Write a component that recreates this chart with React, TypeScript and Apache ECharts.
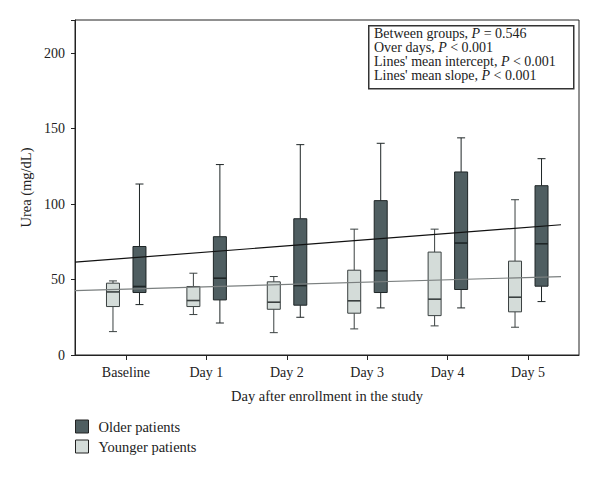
import React, { useEffect, useRef } from "react";
import * as echarts from "echarts";

const categories = ["Baseline", "Day 1", "Day 2", "Day 3", "Day 4", "Day 5"];
// [min, Q1, median, Q3, max]
const youngerBoxes = [
  [15.5, 32.1, 41.8, 47.6, 49.1],
  [26.8, 32.1, 36.1, 45.4, 54.2],
  [14.8, 30.3, 35.0, 48.5, 52.0],
  [17.3, 27.7, 35.9, 56.2, 83.4],
  [19.3, 26.1, 37.0, 68.2, 83.4],
  [18.4, 28.6, 38.3, 62.2, 102.9],
];
const olderBoxes = [
  [33.4, 41.4, 45.4, 71.9, 113.3],
  [21.2, 36.5, 50.9, 78.4, 126.2],
  [25.0, 33.0, 46.0, 90.3, 139.4],
  [31.2, 41.4, 55.8, 102.3, 140.3],
  [31.2, 43.4, 74.2, 121.3, 143.9],
  [35.4, 45.6, 73.7, 112.2, 130.1],
];
// fitted lines: x positions (category index units) and y values at those positions
const trendX = [-0.634, 5.41];
const olderTrend = [61.5, 86.3];
const youngerTrend = [42.7, 52.0];
const yTicks = [0, 50, 100, 150, 200];
const statLines = [
  ["Between groups, ", "= 0.546"],
  ["Over days, ", "< 0.001"],
  ["Lines' mean intercept, ", "< 0.001"],
  ["Lines' mean slope, ", "< 0.001"],
];

const FONT = "Liberation Serif";
const TXT = "#222";

function boxRenderer(offsetPx: number, fill: string, stroke: string) {
  return (params: any, api: any) => {
    const i = api.value(0);
    const pt = (v: number) => api.coord([i, v]);
    const cx = pt(0)[0] + offsetPx;
    const yMin = pt(api.value(1))[1];
    const yQ1 = pt(api.value(2))[1];
    const yMed = pt(api.value(3))[1];
    const yQ3 = pt(api.value(4))[1];
    const yMax = pt(api.value(5))[1];
    const hw = 6.5;
    const cw = 4;
    const ls = { stroke, lineWidth: 1 };
    return {
      type: "group",
      children: [
        { type: "line", shape: { x1: cx, y1: yMax, x2: cx, y2: yQ3 }, style: ls },
        { type: "line", shape: { x1: cx, y1: yQ1, x2: cx, y2: yMin }, style: ls },
        { type: "line", shape: { x1: cx - cw, y1: yMax, x2: cx + cw, y2: yMax }, style: ls },
        { type: "line", shape: { x1: cx - cw, y1: yMin, x2: cx + cw, y2: yMin }, style: ls },
        {
          type: "rect",
          shape: { x: cx - hw, y: yQ3, width: hw * 2, height: yQ1 - yQ3 },
          style: { fill, stroke, lineWidth: 1 },
        },
        { type: "line", shape: { x1: cx - hw, y1: yMed, x2: cx + hw, y2: yMed }, style: { stroke, lineWidth: 1.6 } },
      ],
    };
  };
}

export default function App() {
  const ref = useRef<HTMLDivElement>(null);
  useEffect(() => {
    if (!ref.current) return;
    const chart = echarts.init(ref.current, null, { renderer: "svg" });
    const olderFill = "#4f5e61";
    const youngerFill = "#d4dcd9";
    const statTexts = statLines.map((l, k) => ({
      type: "text",
      left: 374,
      top: 26.5 + k * 14,
      style: {
        text: `${l[0]}{i|P} ${l[1]}`,
        font: `14px '${FONT}'`,
        fill: TXT,
        rich: { i: { fontStyle: "italic", fontFamily: FONT, fontSize: 14, fill: TXT } },
      },
    }));
    chart.setOption({
      animation: false,
      backgroundColor: "#fff",
      textStyle: { fontFamily: FONT, color: TXT },
      grid: {
        left: 75,
        top: 20,
        width: 504,
        height: 335,
        show: true,
        borderColor: "#222",
        borderWidth: 1,
      },
      legend: {
        data: ["Older patients", "Younger patients"],
        orient: "vertical",
        left: 75,
        top: 419,
        padding: 0,
        icon: "rect",
        itemWidth: 13,
        itemHeight: 13,
        itemGap: 5,
        itemStyle: { borderColor: "#222", borderWidth: 1 },
        textStyle: { fontFamily: FONT, fontSize: 14.5, color: TXT, padding: [0, 0, 0, 5] },
        selectedMode: false,
      },
      xAxis: [
        {
          type: "value",
          min: trendX[0],
          max: categories.length - 1 - trendX[0],
          name: "Day after enrollment in the study",
          nameLocation: "middle",
          nameGap: 33,
          nameTextStyle: { fontFamily: FONT, fontSize: 14.5, color: TXT },
          splitLine: { show: false },
          axisLine: { onZero: false, lineStyle: { color: "#222" } },
          axisTick: {
            customValues: categories.map((_, i) => i),
            length: 5,
            lineStyle: { color: "#222" },
          },
          axisLabel: {
            customValues: categories.map((_, i) => i),
            formatter: (v: number) => categories[Math.round(v)] ?? "",
            fontFamily: FONT,
            fontSize: 14,
            color: TXT,
            margin: 10,
          },
        },
      ],
      yAxis: {
        type: "value",
        min: 0,
        max: 222,
        interval: 50,
        name: "Urea (mg/dL)",
        nameLocation: "middle",
        nameGap: 40,
        nameTextStyle: { fontFamily: FONT, fontSize: 14.5, color: TXT },
        splitLine: { show: false },
        axisLine: { show: true, onZero: false, lineStyle: { color: "#222" } },
        axisTick: { show: true, length: 4, lineStyle: { color: "#222" } },
        axisLabel: {
          fontFamily: FONT,
          fontSize: 14,
          color: TXT,
          margin: 10,
          formatter: (v: number) => (yTicks.includes(v) ? String(v) : ""),
        },
      },
      series: [
        {
          name: "Older patients",
          type: "custom",
          itemStyle: { color: olderFill },
          encode: { x: 0, y: [1, 2, 3, 4, 5] },
          data: olderBoxes.map((d, i) => [i, ...d]),
          renderItem: boxRenderer(13.5, olderFill, "#1e2526"),
          z: 2,
        },
        {
          name: "Younger patients",
          type: "custom",
          itemStyle: { color: youngerFill },
          encode: { x: 0, y: [1, 2, 3, 4, 5] },
          data: youngerBoxes.map((d, i) => [i, ...d]),
          renderItem: boxRenderer(-13, youngerFill, "#3a4040"),
          z: 2,
        },
        {
          name: "older trend",
          type: "line",
          data: trendX.map((x, k) => [x, olderTrend[k]]),
          symbol: "none",
          lineStyle: { color: "#111", width: 1.2 },
          z: 4,
        },
        {
          name: "younger trend",
          type: "line",
          data: trendX.map((x, k) => [x, youngerTrend[k]]),
          symbol: "none",
          lineStyle: { color: "#7a7f7f", width: 1.2 },
          z: 4,
        },
      ],
      graphic: [
        {
          type: "rect",
          left: 368,
          top: 25,
          shape: { width: 205, height: 63 },
          style: { fill: "#fff", stroke: "#333", lineWidth: 1.5 },
          z: 10,
        },
        ...statTexts.map((t) => ({ ...t, z: 11 })),
      ],
    });
    return () => chart.dispose();
  }, []);
  return <div ref={ref} style={{ width: 600, height: 477, position: "absolute", left: 0, top: 0 }} />;
}
